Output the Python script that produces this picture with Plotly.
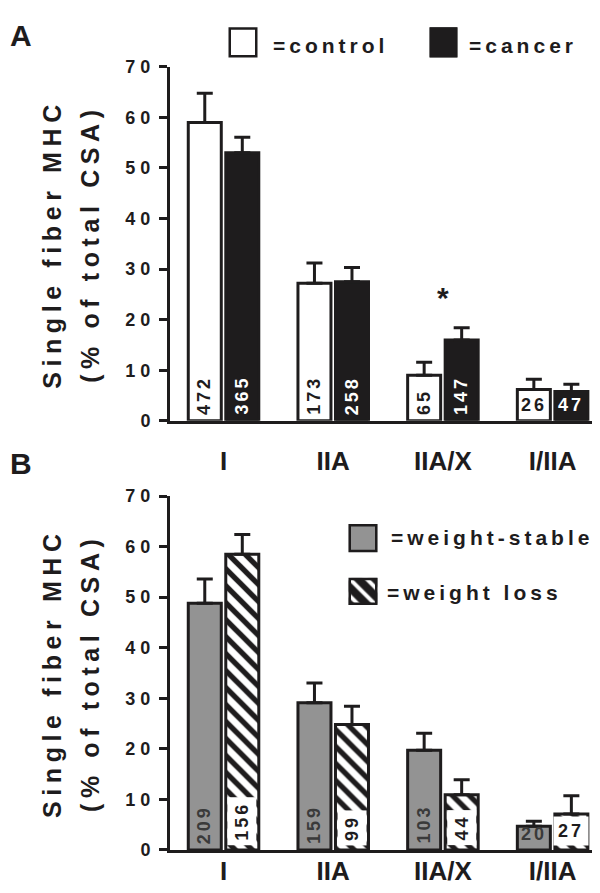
import plotly.graph_objects as go

# ---------------- data ----------------
categories = ["I", "IIA", "IIA/X", "I/IIA"]

control_mean = [59.0, 27.2, 9.0, 6.2]
control_sem = [5.8, 4.0, 2.6, 2.0]
control_n = [472, 173, 65, 26]

cancer_mean = [53.0, 27.5, 16.0, 5.8]
cancer_sem = [3.1, 2.8, 2.4, 1.4]
cancer_n = [365, 258, 147, 47]

stable_mean = [48.8, 29.1, 19.7, 4.7]
stable_sem = [4.8, 3.9, 3.4, 1.0]
stable_n = [209, 159, 103, 20]

loss_mean = [58.5, 24.8, 10.9, 7.1]
loss_sem = [3.9, 3.6, 3.0, 3.6]
loss_n = [156, 99, 44, 27]

y_ticks = [0, 10, 20, 30, 40, 50, 60, 70]
sig_category = "IIA/X"
horizontal_label_category = "I/IIA"

y_title_1 = "Single fiber MHC"
y_title_2 = "(% of total CSA)"

# ---------------- style / layout ----------------
W, H = 600, 893
FONT = "Liberation Sans, Arial, Helvetica, sans-serif"
NARROW = "Liberation Sans Narrow, Arial Narrow, Liberation Sans, sans-serif"
BLACK = "#1e1c1d"
GRAY = "#939393"
BARGAP = 0.316
BARGROUPGAP = 0.12


def spaced(t, s):
    return f'<span style="letter-spacing:{s}px">{t}</span>'


def px(x):
    return x / W


def py(y):
    return 1 - y / H


fig = go.Figure()

pattern_loss = dict(shape="\\", fgcolor=BLACK, bgcolor="white", fgopacity=1,
                    size=12, solidity=0.45, fillmode="replace")


def add_bar(name, mean, sem, color, xa, ya, pattern=None):
    marker = dict(color=color, line=dict(color=BLACK, width=3))
    if pattern:
        marker["pattern"] = pattern
    fig.add_trace(go.Bar(
        name=name, x=categories, y=mean, xaxis=xa, yaxis=ya,
        marker=marker,
        error_y=dict(type="data", array=sem, arrayminus=[0] * len(sem), symmetric=False,
                     color=BLACK, thickness=3, width=8),
        showlegend=False, hoverinfo="skip",
    ))


add_bar("control", control_mean, control_sem, "white", "x", "y")
add_bar("cancer", cancer_mean, cancer_sem, BLACK, "x", "y")
add_bar("weight-stable", stable_mean, stable_sem, GRAY, "x2", "y2")
add_bar("weight loss", loss_mean, loss_sem, "white", "x2", "y2", pattern_loss)

# ---------------- legend swatches (as tiny bar traces) ----------------
legend_items = [
    # label, fill, pattern, outer box (x0, y0, x1, y1) px, text left px, text center y px
    ("=control", "white", None, (218, 7, 252, 43), 263, 28),
    ("=cancer", BLACK, None, (419, 7, 452, 43), 459, 28),
    ("=weight-stable", GRAY, None, (338, 515, 372, 549), 381, 531),
    ("=weight loss", BLACK, dict(shape="\\", fgcolor="white", bgcolor=BLACK, fgopacity=1,
                                 size=12, solidity=0.33, fillmode="replace"),
     (338, 570, 372, 603), 377, 588),
]

annotations = []
layout_axes = {}
for i, (label, fill, pat, box, tx, ty) in enumerate(legend_items):
    k = i + 3
    x0, y0, x1, y1 = box
    b = 2.5
    layout_axes[f"xaxis{k}"] = dict(domain=[px(x0 + b), px(x1 - b)], range=[-0.5, 0.5],
                                    visible=False, fixedrange=True, anchor=f"y{k}")
    layout_axes[f"yaxis{k}"] = dict(domain=[py(y1 - b), py(y0 + b)], range=[0, 1],
                                    visible=False, fixedrange=True, anchor=f"x{k}")
    marker = dict(color=fill, line=dict(color=BLACK, width=5))
    if pat:
        marker["pattern"] = pat
    fig.add_trace(go.Bar(x=[0], y=[1], width=[1], xaxis=f"x{k}", yaxis=f"y{k}",
                         marker=marker, cliponaxis=False, showlegend=False, hoverinfo="skip"))
    annotations.append(dict(xref="paper", yref="paper", x=px(tx), y=py(ty),
                            xanchor="left", yanchor="middle", showarrow=False,
                            text=spaced(label, 4.0),
                            font=dict(family=FONT, size=21, color=BLACK, weight="bold")))

# ---------------- in-bar n labels ----------------
off = (1 - BARGAP) / 4


def bar_labels(ns, xref, yref, side, color, bg=None):
    for i, (cat, n) in enumerate(zip(categories, ns)):
        horiz = cat == horizontal_label_category
        a = dict(xref=xref, yref=yref, x=i + side * off, y=0, xanchor="center",
                 yanchor="bottom", yshift=4, showarrow=False,
                 text=spaced(str(n), 3), textangle=0 if horiz else -90,
                 font=dict(family=FONT, size=18, color=color, weight="bold"))
        if bg:
            a.update(bgcolor=bg, borderpad=4)
        annotations.append(a)


bar_labels(control_n, "x", "y", -1, BLACK)
bar_labels(cancer_n, "x", "y", 1, "white")
bar_labels(stable_n, "x2", "y2", -1, "#3a3a3a")
bar_labels(loss_n, "x2", "y2", 1, BLACK, bg="white")

# significance star
si = categories.index(sig_category)
annotations.append(dict(xref="x", yref="y", x=si, y=cancer_mean[si] + cancer_sem[si],
                        yanchor="middle", yshift=30, showarrow=False, text="*",
                        font=dict(family=FONT, size=30, color=BLACK, weight="bold")))

# y-axis titles and panel letters
panels = [("A", 50, 412, 18), ("B", 489, 851, 456)]
for letter, ytop, ybot, ly in panels:
    yc = (ytop + ybot) / 2
    annotations.append(dict(xref="paper", yref="paper", x=px(44), y=py(yc), textangle=-90,
                            xanchor="center", yanchor="middle", showarrow=False,
                            text=spaced(y_title_1, 5.6),
                            font=dict(family=FONT, size=25, color=BLACK, weight="bold")))
    annotations.append(dict(xref="paper", yref="paper", x=px(82), y=py(yc), textangle=-90,
                            xanchor="center", yanchor="middle", showarrow=False,
                            text=spaced(y_title_2, 5.6),
                            font=dict(family=FONT, size=25, color=BLACK, weight="bold")))
    annotations.append(dict(xref="paper", yref="paper", x=0, y=py(ly), xanchor="left",
                            yanchor="middle", showarrow=False, text=letter,
                            font=dict(family=FONT, size=30, color=BLACK, weight="bold")))

XRANGE = [-0.488, 3.505]
xdom = [px(162), 1.0]


def xaxis(anchor, label_gap, standoff=0):
    d = dict(domain=xdom, range=XRANGE, anchor=anchor, showline=True, linewidth=3,
             linecolor=BLACK, showgrid=False, zeroline=False, fixedrange=True,
             tickfont=dict(family=NARROW, size=26, color=BLACK, weight="bold"))
    if label_gap > 0:
        d.update(ticks="outside", ticklen=label_gap, tickcolor="rgba(0,0,0,0)")
    else:
        d.update(ticks="", ticklabelstandoff=standoff)
    return d


def yaxis(anchor, ytop, ybot):
    return dict(domain=[py(ybot), py(ytop)], range=[0, 70], anchor=anchor, showline=True,
                linewidth=3, linecolor=BLACK, ticks="outside", ticklen=8, tickwidth=3,
                tickcolor=BLACK, tickvals=y_ticks, ticktext=[spaced(str(v), 5) for v in y_ticks],
                showgrid=False, zeroline=False, fixedrange=True,
                tickfont=dict(family=FONT, size=18, color=BLACK, weight="bold"))


fig.update_layout(
    width=W, height=H, margin=dict(l=0, r=0, t=0, b=0),
    paper_bgcolor="white", plot_bgcolor="white",
    barmode="group", bargap=BARGAP, bargroupgap=BARGROUPGAP,
    showlegend=False,
    xaxis=xaxis("y", 15), yaxis=yaxis("x", 50, 412),
    xaxis2=xaxis("y2", 0, -4), yaxis2=yaxis("x2", 489, 851),
    annotations=annotations,
    **layout_axes,
)

fig.write_html("out.html")
